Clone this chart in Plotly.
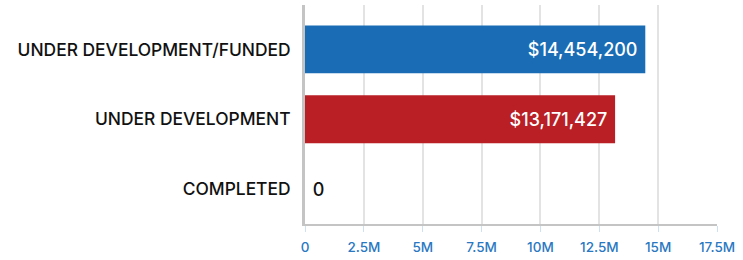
import plotly.graph_objects as go

categories = ["COMPLETED", "UNDER DEVELOPMENT", "UNDER DEVELOPMENT/FUNDED"]
values = [0, 13171427, 14454200]
value_labels = ["\u00a00", "$13,171,427\u00a0", "$14,454,200\u00a0"]
bar_colors = ["#1a6db5", "#b91f25", "#1a6db5"]
tick_vals = [0, 2.5e6, 5e6, 7.5e6, 10e6, 12.5e6, 15e6, 17.5e6]
tick_text = ["0", "2.5M", "5M", "7.5M", "10M", "12.5M", "15M", "17.5M"]

FONT = "Inter"
text_pos = ["outside" if v == 0 else "inside" for v in values]

fig = go.Figure(go.Bar(
    y=categories, x=values, orientation="h",
    marker=dict(color=bar_colors, line=dict(width=0)),
    width=0.685,
    text=value_labels, textposition=text_pos,
    insidetextanchor="end",
    outsidetextfont=dict(family=FONT, size=18, color="#111111", weight=500),
    insidetextfont=dict(family=FONT, size=18, color="#ffffff", weight=500),
    cliponaxis=False,
))

fig.update_layout(
    width=743, height=260,
    margin=dict(l=305, r=26, t=5, b=28),
    paper_bgcolor="white", plot_bgcolor="white",
    showlegend=False,
    font=dict(family=FONT, color="#111111"),
    xaxis=dict(
        range=[0, 17.5e6], tickvals=tick_vals, ticktext=tick_text,
        showgrid=True, gridcolor="#e3e3e3", gridwidth=1.5,
        ticks="outside", ticklen=6, tickcolor="#cfe0ef", tickwidth=1,
        tickfont=dict(family=FONT, size=13.5, color="#2a78c2", weight=500),
        ticklabelstandoff=4,
        showline=True, linecolor="#c4c4c4", linewidth=2,
        zeroline=False, fixedrange=True,
    ),
    yaxis=dict(
        categoryorder="array", categoryarray=categories,
        range=[-0.5, 2.636],
        showline=True, linecolor="#c4c4c4", linewidth=3,
        showgrid=False, zeroline=False,
        tickfont=dict(family=FONT, size=17.4, color="#111111", weight=500),
        ticks="", ticklabelstandoff=8, fixedrange=True,
    ),
)

fig.write_html("out.html", config={"displayModeBar": False},
               post_script="document.body.style.margin='0';")
